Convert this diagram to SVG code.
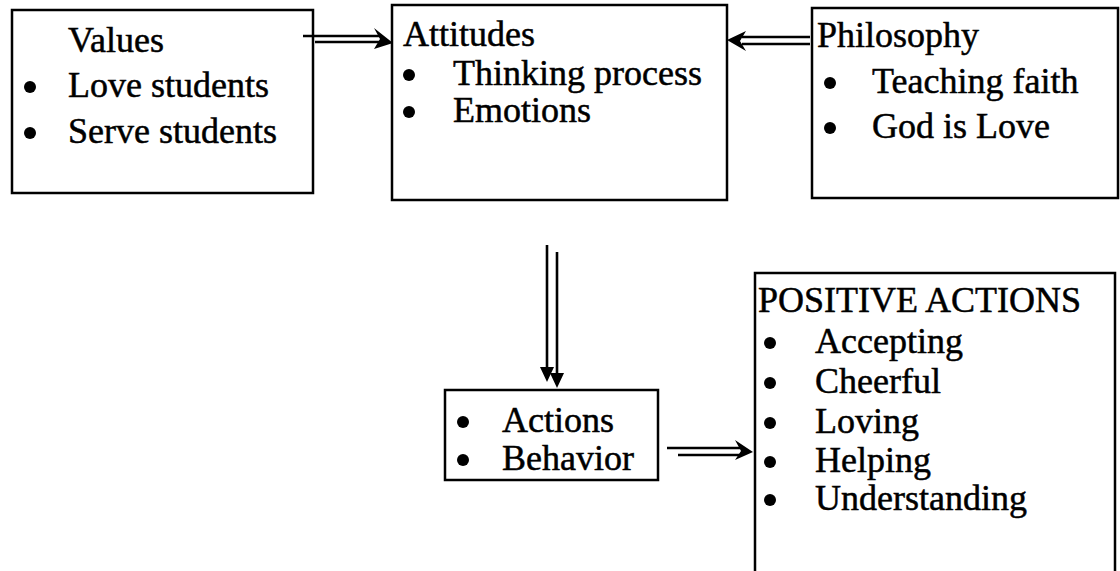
<svg xmlns="http://www.w3.org/2000/svg" width="1120" height="571" viewBox="0 0 1120 571">
<style>
.box{fill:#fff;stroke:#000;stroke-width:2.5}
.t{font-family:"Liberation Serif","Times New Roman",serif;font-size:36px;fill:#000;stroke:#000;stroke-width:0.5}
.ln{stroke:#000;stroke-width:2.6;fill:none}
.hd{fill:#000;stroke:none}
</style>
<defs>
<circle id="b" r="6" fill="#000"/>
</defs>
<rect width="1120" height="571" fill="#fff"/>
<g id="values">
<rect class="box" x="12" y="10" width="301" height="183"/>
<text class="t" x="68" y="52">Values</text>
<use href="#b" x="30" y="87"/>
<text class="t" x="68" y="97">Love students</text>
<use href="#b" x="30" y="133"/>
<text class="t" x="68" y="143">Serve students</text>
</g>
<g id="attitudes">
<rect class="box" x="392" y="5" width="335" height="195"/>
<text class="t" x="403" y="46">Attitudes</text>
<use href="#b" x="409" y="75"/>
<text class="t" x="453" y="85">Thinking process</text>
<use href="#b" x="409" y="112"/>
<text class="t" x="453" y="122">Emotions</text>
</g>
<g id="philosophy">
<rect class="box" x="812" y="8" width="306" height="190"/>
<text class="t" x="817" y="47">Philosophy</text>
<use href="#b" x="830" y="83"/>
<text class="t" x="872" y="93">Teaching faith</text>
<use href="#b" x="830" y="128"/>
<text class="t" x="872" y="138">God is Love</text>
</g>
<g id="actions">
<rect class="box" x="445" y="390" width="213" height="90"/>
<use href="#b" x="463" y="422"/>
<text class="t" x="502" y="432">Actions</text>
<use href="#b" x="463" y="460"/>
<text class="t" x="502" y="470">Behavior</text>
</g>
<g id="positive">
<rect class="box" x="755" y="273" width="360" height="310"/>
<text class="t" x="758" y="312">POSITIVE ACTIONS</text>
<use href="#b" x="770" y="343"/>
<text class="t" x="815" y="353">Accepting</text>
<use href="#b" x="770" y="383"/>
<text class="t" x="815" y="393">Cheerful</text>
<use href="#b" x="770" y="423"/>
<text class="t" x="815" y="433">Loving</text>
<use href="#b" x="770" y="462"/>
<text class="t" x="815" y="472">Helping</text>
<use href="#b" x="770" y="500"/>
<text class="t" x="815" y="510">Understanding</text>
</g>
<g id="connectors">
<line class="ln" x1="303" y1="36" x2="380" y2="36"/>
<line class="ln" x1="315" y1="42" x2="380" y2="42"/>
<polygon class="hd" points="374,28 393,43 374,49 380,39"/>
<line class="ln" x1="810" y1="37" x2="742" y2="37"/>
<line class="ln" x1="810" y1="44" x2="742" y2="44"/>
<polygon class="hd" points="746,31 727,40 746,51 740,41"/>
<line class="ln" x1="547" y1="245" x2="547" y2="370"/>
<polygon class="hd" points="540,367 554,367 547,382"/>
<line class="ln" x1="557" y1="252" x2="557" y2="376"/>
<polygon class="hd" points="550,373 564,373 557,388"/>
<line class="ln" x1="667" y1="448" x2="740" y2="448"/>
<line class="ln" x1="678" y1="455" x2="740" y2="455"/>
<polygon class="hd" points="735,440 753,452 735,460 741,451"/>
</g>
</svg>
